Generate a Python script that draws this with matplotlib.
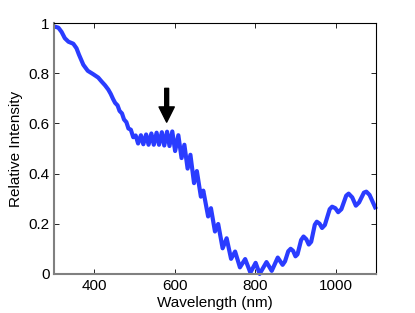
import matplotlib
matplotlib.use("Agg")
import matplotlib.pyplot as plt

plt.rcParams['font.family'] = ['Liberation Sans', 'DejaVu Sans']

# spectrum (nm, relative intensity)
wavelength = [300, 311, 319, 327, 336, 348, 356, 362, 373, 384, 397, 410, 418,
              427, 435, 441, 447, 452, 458, 463, 469, 474, 480, 485, 491, 497,
              503, 509, 516, 522, 529, 535, 542, 548, 555, 561, 568, 574, 581,
              587, 594, 601, 609, 617, 624, 632, 639, 648, 655, 665, 671, 683,
              690, 700, 708, 719, 729, 740, 750, 762, 775, 788, 801, 811, 828,
              841, 856, 868, 874, 882, 888, 894, 900, 905, 914, 920, 927, 933,
              939, 948, 953, 960, 966, 973, 985, 991, 999, 1006, 1014, 1026,
              1032, 1041, 1050, 1058, 1070, 1076, 1084, 1100]
intensity = [0.987, 0.982, 0.965, 0.940, 0.926, 0.918, 0.900, 0.875, 0.834,
             0.810, 0.797, 0.783, 0.768, 0.752, 0.735, 0.718, 0.697, 0.682,
             0.672, 0.650, 0.640, 0.616, 0.605, 0.580, 0.575, 0.545, 0.552,
             0.520, 0.553, 0.517, 0.556, 0.515, 0.560, 0.515, 0.563, 0.515,
             0.565, 0.512, 0.567, 0.510, 0.568, 0.490, 0.553, 0.462, 0.515,
             0.420, 0.475, 0.362, 0.410, 0.308, 0.332, 0.229, 0.262, 0.169,
             0.199, 0.102, 0.142, 0.060, 0.089, 0.026, 0.059, 0.005, 0.044,
             0.000, 0.047, 0.012, 0.065, 0.036, 0.050, 0.090, 0.100, 0.092,
             0.070, 0.078, 0.135, 0.149, 0.138, 0.117, 0.128, 0.196, 0.208,
             0.200, 0.183, 0.195, 0.258, 0.268, 0.262, 0.246, 0.258, 0.312,
             0.320, 0.305, 0.272, 0.285, 0.324, 0.328, 0.315, 0.258]

arrow_x = 580
arrow_top = 0.74
arrow_tip = 0.605

fig = plt.figure(figsize=(4.15, 3.13), dpi=100)
ax = fig.add_axes([0.130, 0.125, 0.776, 0.801])

ax.plot(wavelength, intensity, color='#2a3cff', lw=3,
        solid_joinstyle='round', solid_capstyle='butt', clip_on=False)

ax.annotate('', xy=(arrow_x, arrow_tip), xytext=(arrow_x, arrow_top),
            arrowprops=dict(facecolor='black', edgecolor='black', width=2.8,
                            headwidth=11, headlength=11, shrink=0))

ax.set_xlim(300, 1100)
ax.set_ylim(0, 1)
ax.set_xticks([400, 600, 800, 1000])
ax.set_yticks([0, 0.2, 0.4, 0.6, 0.8, 1])
ax.set_yticklabels(['0', '0.2', '0.4', '0.6', '0.8', '1'])
ax.tick_params(direction='in', top=True, right=True, length=3.5, width=0.6,
               labelsize=11)
ax.tick_params(axis='x', pad=4)
ax.tick_params(axis='y', pad=3)

for side in ['top', 'right']:
    ax.spines[side].set_linewidth(0.8)
for side in ['left', 'bottom']:
    ax.spines[side].set_color('#808080')
    ax.spines[side].set_linewidth(1.5)

ax.set_xlabel('Wavelength (nm)', fontsize=11, labelpad=2)
ax.set_ylabel('Relative Intensity', fontsize=11, labelpad=4)

fig.savefig('out.png', dpi=100)
